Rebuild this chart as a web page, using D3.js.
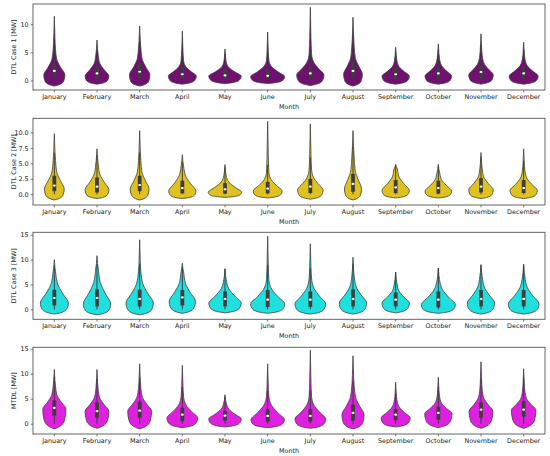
<!DOCTYPE html>
<html>
<head>
<meta charset="utf-8">
<script src="https://cdn.jsdelivr.net/npm/d3@7"></script>
<style>
  body { margin: 0; background: #fff; }
  text { font-family: "DejaVu Sans", sans-serif; fill: #222; }
</style>
</head>
<body>
<script>
// Monthly violin plots for four line rating cases
const months = ["January", "February", "March", "April", "May", "June",
  "July", "August", "September", "October", "November", "December"];

// DTL Case 1
const case1Min = [-1.0, -0.66, -1.0, -0.66, -0.55, -0.55, -0.9, -1.0, -0.66, -0.66, -0.66, -0.66];
const case1Mode = [0.95, 0.77, 0.95, 0.77, 0.77, 0.66, 0.95, 1.1, 0.77, 0.77, 0.95, 0.77];
const case1Neck = [5.5, 4.5, 5.7, 3.6, 3.3, 3.6, 4.8, 6.0, 3.6, 3.9, 4.5, 3.9];
const case1Max = [11.4, 7.2, 9.7, 8.8, 5.6, 8.6, 13.0, 11.25, 5.9, 6.5, 8.3, 6.8];
const case1Width = [0.62, 0.7, 0.6, 0.82, 0.95, 1.0, 0.8, 0.55, 0.8, 0.78, 0.72, 0.85];
const case1Q1 = [0.5, 0.4, 0.4, 0.4, 0.2, 0.1, 0.3, 0.4, 0.2, 0.3, 0.3, 0.3];
const case1Med = [1.7, 1.25, 1.55, 1.1, 0.9, 0.83, 1.25, 1.7, 1.1, 1.25, 1.5, 1.25];
const case1Q3 = [3.0, 2.4, 3.1, 2.4, 2.0, 2.0, 2.4, 3.5, 2.2, 2.4, 2.7, 2.4];

// DTL Case 2
const case2Min = [-0.93, -0.7, -0.93, -0.7, -0.5, -0.6, -0.8, -0.93, -0.6, -0.6, -0.7, -0.7];
const case2Mode = [0.86, 0.7, 0.86, 0.5, 0.32, 0.5, 0.7, 0.86, 0.6, 0.5, 0.7, 0.6];
const case2Neck = [5.45, 4.9, 5.45, 4.6, 3.0, 3.6, 4.1, 6.0, 4.3, 3.6, 4.1, 3.9];
const case2Max = [9.8, 7.35, 10.3, 6.4, 4.8, 11.8, 11.4, 10.3, 4.8, 4.8, 6.75, 7.35];
const case2Width = [0.58, 0.7, 0.55, 0.8, 0.98, 0.85, 0.75, 0.5, 0.8, 0.78, 0.72, 0.8];
const case2Q1 = [0.5, 0.3, 0.5, 0.15, 0.1, 0.15, 0.2, 0.4, 0.2, 0.1, 0.3, 0.2];
const case2Med = [1.4, 1.23, 1.5, 1.0, 0.8, 0.9, 1.23, 1.67, 1.1, 1.0, 1.23, 1.0];
const case2Q3 = [3.0, 2.7, 3.0, 2.2, 1.8, 2.0, 2.5, 3.3, 2.3, 2.2, 2.6, 2.3];

// DTL Case 3
const case3Min = [-0.95, -1.1, -1.1, -0.8, -0.7, -0.8, -0.95, -0.95, -0.7, -0.8, -0.95, -0.95];
const case3Mode = [1.27, 1.07, 1.27, 1.6, 1.27, 1.07, 1.07, 1.27, 1.27, 0.93, 1.27, 1.07];
const case3Neck = [7.6, 8.3, 7.6, 7.6, 6.0, 6.0, 6.3, 6.6, 5.3, 6.0, 6.6, 6.6];
const case3Max = [10.0, 10.8, 14.0, 9.3, 8.2, 14.7, 13.2, 10.5, 7.5, 8.3, 9.0, 9.1];
const case3Width = [0.82, 0.8, 0.8, 0.77, 0.95, 1.0, 0.9, 0.8, 0.8, 1.0, 0.8, 0.9];
const case3Q1 = [0.8, 0.6, 0.6, 0.8, 0.6, 0.5, 0.5, 0.6, 0.6, 0.4, 0.6, 0.6];
const case3Med = [2.28, 2.28, 2.1, 2.4, 2.1, 1.94, 1.94, 2.1, 1.94, 1.94, 2.1, 2.1];
const case3Q3 = [3.95, 4.0, 4.0, 3.9, 3.6, 3.9, 3.6, 4.0, 3.4, 3.6, 3.9, 3.9];

// MTDL
const mtdlMin = [-1.06, -0.93, -1.06, -0.8, -0.66, -0.8, -0.93, -1.06, -0.66, -0.8, -0.93, -0.93];
const mtdlMode = [2.9, 2.5, 2.5, 1.15, 0.95, 0.8, 0.95, 1.8, 1.15, 2.0, 2.5, 2.7];
const mtdlNeck = [7.5, 6.8, 7.1, 5.5, 4.2, 5.5, 5.5, 7.5, 4.8, 5.5, 6.8, 6.5];
const mtdlMax = [10.85, 10.85, 12.0, 11.7, 5.8, 12.0, 14.7, 13.6, 8.3, 9.3, 12.4, 11.0];
const mtdlWidth = [0.68, 0.7, 0.7, 0.9, 0.95, 0.98, 0.9, 0.65, 0.85, 0.8, 0.7, 0.72];
const mtdlQ1 = [1.6, 1.2, 1.2, 0.5, 0.6, 0.4, 0.4, 0.6, 0.7, 0.8, 1.2, 1.4];
const mtdlMed = [3.15, 2.5, 2.6, 1.8, 1.6, 1.55, 1.55, 2.15, 1.8, 2.15, 2.8, 2.8];
const mtdlQ3 = [4.7, 4.3, 4.4, 3.2, 2.5, 2.9, 2.9, 3.8, 2.9, 3.4, 4.3, 4.5];

const yLabels = ["DTL Case 1 [MW]", "DTL Case 2 [MW]", "DTL Case 3 [MW]", "MTDL [MW]"];
const yTicks = [[0, 5, 10], [0, 2.5, 5, 7.5, 10], [0, 5, 10, 15], [0, 5, 10, 15]];
const yDomains = [[-1.7, 13.6], [-1.74, 12.3], [-2.0, 15.5], [-2.07, 15.3]];
const fills = ["#701070", "#dfc120", "#20dfdf", "#df20df"];

const panels = [
  { min: case1Min, mode: case1Mode, neck: case1Neck, max: case1Max, w: case1Width, q1: case1Q1, med: case1Med, q3: case1Q3 },
  { min: case2Min, mode: case2Mode, neck: case2Neck, max: case2Max, w: case2Width, q1: case2Q1, med: case2Med, q3: case2Q3 },
  { min: case3Min, mode: case3Mode, neck: case3Neck, max: case3Max, w: case3Width, q1: case3Q1, med: case3Med, q3: case3Q3 },
  { min: mtdlMin, mode: mtdlMode, neck: mtdlNeck, max: mtdlMax, w: mtdlWidth, q1: mtdlQ1, med: mtdlMed, q3: mtdlQ3 }
];

const width = 550, height = 456;
const left = 33, right = 545;
const tops = [4, 118.3, 232.3, 347.3];
const bottoms = [90, 205, 319.3, 434];
const lineColor = "#3d3d3d";

const svg = d3.select("body").append("svg")
  .attr("width", width)
  .attr("height", height);

const x = d3.scaleBand().domain(months).range([left, right]).padding(0);
const half = x.bandwidth() * 0.4;

// outline knots of one violin: [value, half width as share of max]
function knots(lo, mode, neck, hi, w) {
  const a = mode - lo, b = neck - mode;
  return [
    [hi, 0],
    [neck + 0.35 * (hi - neck), 0.035],
    [neck, 0.07],
    [mode + 0.6 * b, 0.24 * w],
    [mode + 0.3 * b, 0.6 * w],
    [mode, w],
    [lo + 0.45 * a, 0.88 * w],
    [lo + 0.12 * a, 0.45 * w],
    [lo, 0]
  ];
}

panels.forEach((p, pi) => {
  const top = tops[pi], bottom = bottoms[pi];
  const y = d3.scaleLinear().domain(yDomains[pi]).range([bottom, top]);
  const g = svg.append("g");

  const area = d3.area()
    .curve(d3.curveMonotoneY)
    .y(d => y(d[0]));

  months.forEach((m, i) => {
    const cx = x(m) + x.bandwidth() / 2;
    const pts = knots(p.min[i], p.mode[i], p.neck[i], p.max[i], p.w[i]);
    g.append("path")
      .datum(pts)
      .attr("d", area.x0(d => cx - d[1] * half).x1(d => cx + d[1] * half))
      .attr("fill", fills[pi])
      .attr("stroke", lineColor)
      .attr("stroke-width", 0.8);

    const iqr = p.q3[i] - p.q1[i];
    const wLo = Math.max(0, p.q1[i] - 1.5 * iqr);
    const wHi = Math.min(p.q3[i] + 1.5 * iqr, p.max[i]);
    g.append("line")
      .attr("x1", cx).attr("x2", cx)
      .attr("y1", y(wLo)).attr("y2", y(wHi))
      .attr("stroke", lineColor)
      .attr("stroke-width", 1);
    g.append("rect")
      .attr("x", cx - 1.9).attr("width", 3.8)
      .attr("y", y(p.q3[i])).attr("height", y(p.q1[i]) - y(p.q3[i]))
      .attr("fill", lineColor);
    g.append("ellipse")
      .attr("cx", cx).attr("cy", y(p.med[i]))
      .attr("rx", 1.5).attr("ry", 1.1)
      .attr("fill", "#fff");
  });

  // frame
  g.append("rect")
    .attr("x", left).attr("y", top)
    .attr("width", right - left).attr("height", bottom - top)
    .attr("fill", "none")
    .attr("stroke", "#555")
    .attr("stroke-width", 0.9);

  const fmt = pi === 1 ? d3.format(".1f") : d3.format("d");
  const yAxis = g.append("g")
    .attr("transform", `translate(${left},0)`)
    .call(d3.axisLeft(y).tickValues(yTicks[pi]).tickFormat(fmt).tickSize(2.4).tickPadding(2));
  const xAxis = g.append("g")
    .attr("transform", `translate(0,${bottom})`)
    .call(d3.axisBottom(x).tickSize(2.4).tickPadding(2));

  [yAxis, xAxis].forEach(ax => {
    ax.select(".domain").remove();
    ax.selectAll(".tick line").attr("stroke", "#555").attr("stroke-width", 0.8);
    ax.selectAll(".tick text")
      .attr("fill", "#222")
      .style("font-family", "DejaVu Sans")
      .style("font-size", "6.4px");
  });

  g.append("text")
    .attr("x", (left + right) / 2)
    .attr("y", bottom + 18.6)
    .attr("text-anchor", "middle")
    .style("font-size", "6.4px")
    .text("Month");

  g.append("text")
    .attr("transform", `translate(15.5,${(top + bottom) / 2}) rotate(-90)`)
    .attr("text-anchor", "middle")
    .style("font-size", "6.4px")
    .text(yLabels[pi]);
});
</script>
</body>
</html>
